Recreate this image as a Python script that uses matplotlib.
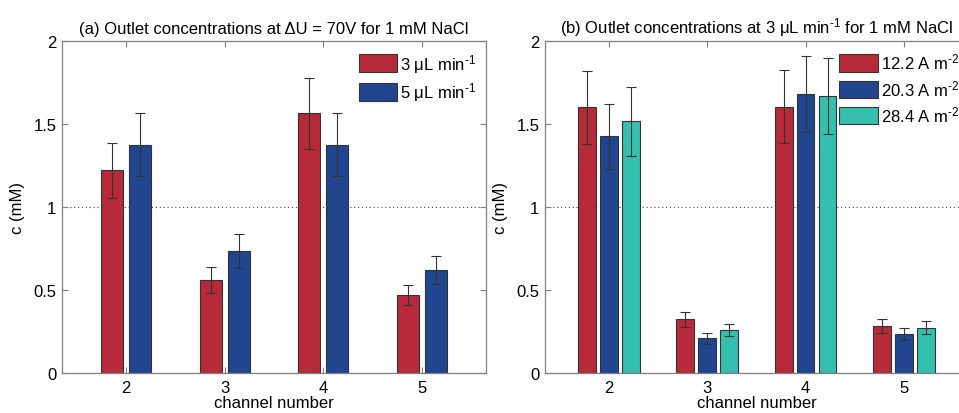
import numpy as np
import matplotlib.pyplot as plt
from matplotlib.patches import Patch

plt.rcParams['font.family'] = ['Liberation Sans', 'DejaVu Sans']
plt.rcParams['mathtext.fontset'] = 'custom'
plt.rcParams['mathtext.rm'] = 'Liberation Sans'
plt.rcParams['mathtext.it'] = 'Liberation Sans:italic'
plt.rcParams['mathtext.default'] = 'regular'

# data
channels = [2, 3, 4, 5]

# (a) flow rate comparison at dU = 70 V
flow_labels = ['3 μL min$^{\\text{-}1}$', '5 μL min$^{\\text{-}1}$']
c_3ul = [1.22, 0.56, 1.565, 0.47]
err_3ul = [0.165, 0.08, 0.215, 0.062]
c_5ul = [1.375, 0.735, 1.375, 0.62]
err_5ul = [0.19, 0.10, 0.19, 0.085]

# (b) current density comparison at 3 uL/min
current_labels = ['12.2 A m$^{\\text{-}2}$', '20.3 A m$^{\\text{-}2}$', '28.4 A m$^{\\text{-}2}$']
c_12 = [1.60, 0.325, 1.605, 0.285]
err_12 = [0.22, 0.045, 0.22, 0.042]
c_20 = [1.425, 0.21, 1.68, 0.237]
err_20 = [0.195, 0.033, 0.23, 0.036]
c_28 = [1.515, 0.26, 1.67, 0.274]
err_28 = [0.21, 0.036, 0.23, 0.038]

red = '#b62a3a'
blue = '#21468f'
teal = '#35bfae'
spine_col = '#7f7f7f'
fs = 12

fig = plt.figure(figsize=(9.59, 4.14), dpi=100)
ax1 = fig.add_axes([0.0647, 0.0966, 0.442, 0.802])
ax2 = fig.add_axes([0.5683, 0.0966, 0.441, 0.802])

x = np.array(channels, dtype=float)
ekw = dict(ecolor='#333333', elinewidth=0.8, capsize=3.3, capthick=0.8)
bkw = dict(edgecolor='#333333', linewidth=0.8, zorder=2)

# panel (a)
w1 = 0.225
ax1.bar(x - 0.142, c_3ul, w1, yerr=err_3ul, color=red, error_kw=ekw, **bkw)
ax1.bar(x + 0.142, c_5ul, w1, yerr=err_5ul, color=blue, error_kw=ekw, **bkw)

# panel (b)
w2 = 0.18
ax2.bar(x - 0.223, c_12, w2, yerr=err_12, color=red, error_kw=ekw, **bkw)
ax2.bar(x, c_20, w2, yerr=err_20, color=blue, error_kw=ekw, **bkw)
ax2.bar(x + 0.223, c_28, w2, yerr=err_28, color=teal, error_kw=ekw, **bkw)

for ax in (ax1, ax2):
    ax.axhline(1, color='#444444', linestyle=(0, (1, 2.5)), linewidth=0.8, zorder=1)
    ax.set_xlim(1.35, 5.65)
    ax.set_ylim(0, 2)
    ax.set_xticks(channels)
    ax.set_yticks([0, 0.5, 1, 1.5, 2])
    ax.set_yticklabels(['0', '0.5', '1', '1.5', '2'])
    ax.tick_params(direction='in', length=4, width=0.8, color=spine_col,
                   labelsize=fs, top=True, right=True, pad=4)
    ax.tick_params(axis='x', pad=5)
    for s in ax.spines.values():
        s.set_color(spine_col)
        s.set_linewidth(0.9)
    ax.set_xlabel('channel number', fontsize=fs, labelpad=0)
    ax.set_ylabel('c (mM)', fontsize=fs, labelpad=6)

ax1.set_title('(a) Outlet concentrations at ΔU = 70V for 1 mM NaCl', fontsize=fs, pad=6)
ax2.set_title('(b) Outlet concentrations at 3 μL min$^{\\text{-}1}$ for 1 mM NaCl', fontsize=fs, pad=6)

leg_kw = dict(loc='upper left', frameon=False, fontsize=fs, borderpad=0,
              borderaxespad=0, handlelength=2.3, handleheight=1.25,
              labelspacing=0.36, handletextpad=0.2)
h1 = [Patch(facecolor=c, edgecolor='#333333', linewidth=0.8) for c in (red, blue)]
ax1.legend(h1, flow_labels, bbox_to_anchor=(0.700, 0.968), **leg_kw)
h2 = [Patch(facecolor=c, edgecolor='#333333', linewidth=0.8) for c in (red, blue, teal)]
ax2.legend(h2, current_labels, bbox_to_anchor=(0.696, 0.967), **leg_kw)

fig.savefig('out.png', dpi=100)
